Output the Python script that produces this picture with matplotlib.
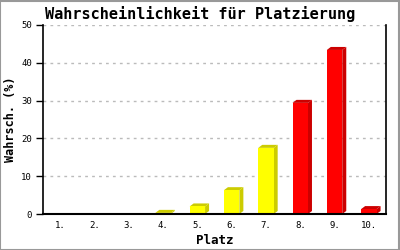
import matplotlib
matplotlib.use("Agg")
import matplotlib.pyplot as plt
from matplotlib.patches import Rectangle, Polygon

places = ["1.", "2.", "3.", "4.", "5.", "6.", "7.", "8.", "9.", "10."]
probs = [0, 0, 0, 0.3, 2.0, 6.3, 17.5, 29.4, 43.4, 1.3]
front_colors = ["#ffff00"] * 7 + ["#ff0000"] * 3
side_colors = ["#cccc00"] * 7 + ["#cc0000"] * 3
yticks = [0, 10, 20, 30, 40, 50]

plt.rcParams['font.family'] = ['DejaVu Sans Mono']

W, H = 400, 250
fig = plt.figure(figsize=(4, 2.5), dpi=100)
fig.patch.set_facecolor("white")
fig.add_artist(Rectangle((0.0, 0.0), 0.9975, 0.996, transform=fig.transFigure,
                         fill=False, edgecolor="#999999", linewidth=1.5))

ax_l, ax_r, ax_t, ax_b = 43, 386, 25, 214
ax = fig.add_axes([ax_l/W, 1 - ax_b/H, (ax_r-ax_l)/W, (ax_b-ax_t)/H])
ax.set_xlim(-0.5, 9.5)
ax.set_ylim(0, 50)

# depth of the 3D effect in pixels -> data units
px_x = (ax_r - ax_l) / 10.0
px_y = (ax_b - ax_t) / 50.0
dx = 4 / px_x
dy = 3 / px_y
bw = 0.45

x = list(range(len(places)))
for i, v in enumerate(probs):
    if v <= 0:
        continue
    xl, xr = x[i] - bw/2, x[i] + bw/2
    side = Polygon([(xr, 0), (xr + dx, dy), (xr + dx, v + dy), (xr, v)],
                   closed=True, facecolor=side_colors[i], edgecolor='none', zorder=2,
                   clip_on=False)
    top = Polygon([(xl, v), (xl + dx, v + dy), (xr + dx, v + dy), (xr, v)],
                  closed=True, facecolor=side_colors[i], edgecolor='none', zorder=2,
                  clip_on=False)
    ax.add_patch(side)
    ax.add_patch(top)
    ax.bar(x[i], v, width=bw, color=front_colors[i], linewidth=0, zorder=3)

ax.set_yticks(yticks)
ax.set_xticks(x)
ax.set_xticklabels(places)
ax.tick_params(axis='x', length=0, labelsize=6.5, pad=5)
ax.tick_params(axis='y', length=5, width=1, labelsize=6.5, pad=3, direction='out')

ax.grid(axis='y', color="#bbbbbb", linestyle=(0, (2, 3)), linewidth=1)
ax.set_axisbelow(True)
ax.spines['top'].set_visible(False)
ax.spines['right'].set_linewidth(1.2)
ax.spines['left'].set_linewidth(1.2)
ax.spines['bottom'].set_linewidth(1.5)
ax.spines['bottom'].set_zorder(4)

fig.text(0.5, 1 - 14/H, "Wahrscheinlichkeit für Platzierung", fontsize=11,
         fontweight='bold', ha='center', va='center')
ax.set_xlabel("Platz", fontsize=9, fontweight='bold', labelpad=3)
ax.set_ylabel("Wahrsch. (%)", fontsize=8.5, fontweight='bold', labelpad=3)

fig.savefig("out.png", dpi=100)
